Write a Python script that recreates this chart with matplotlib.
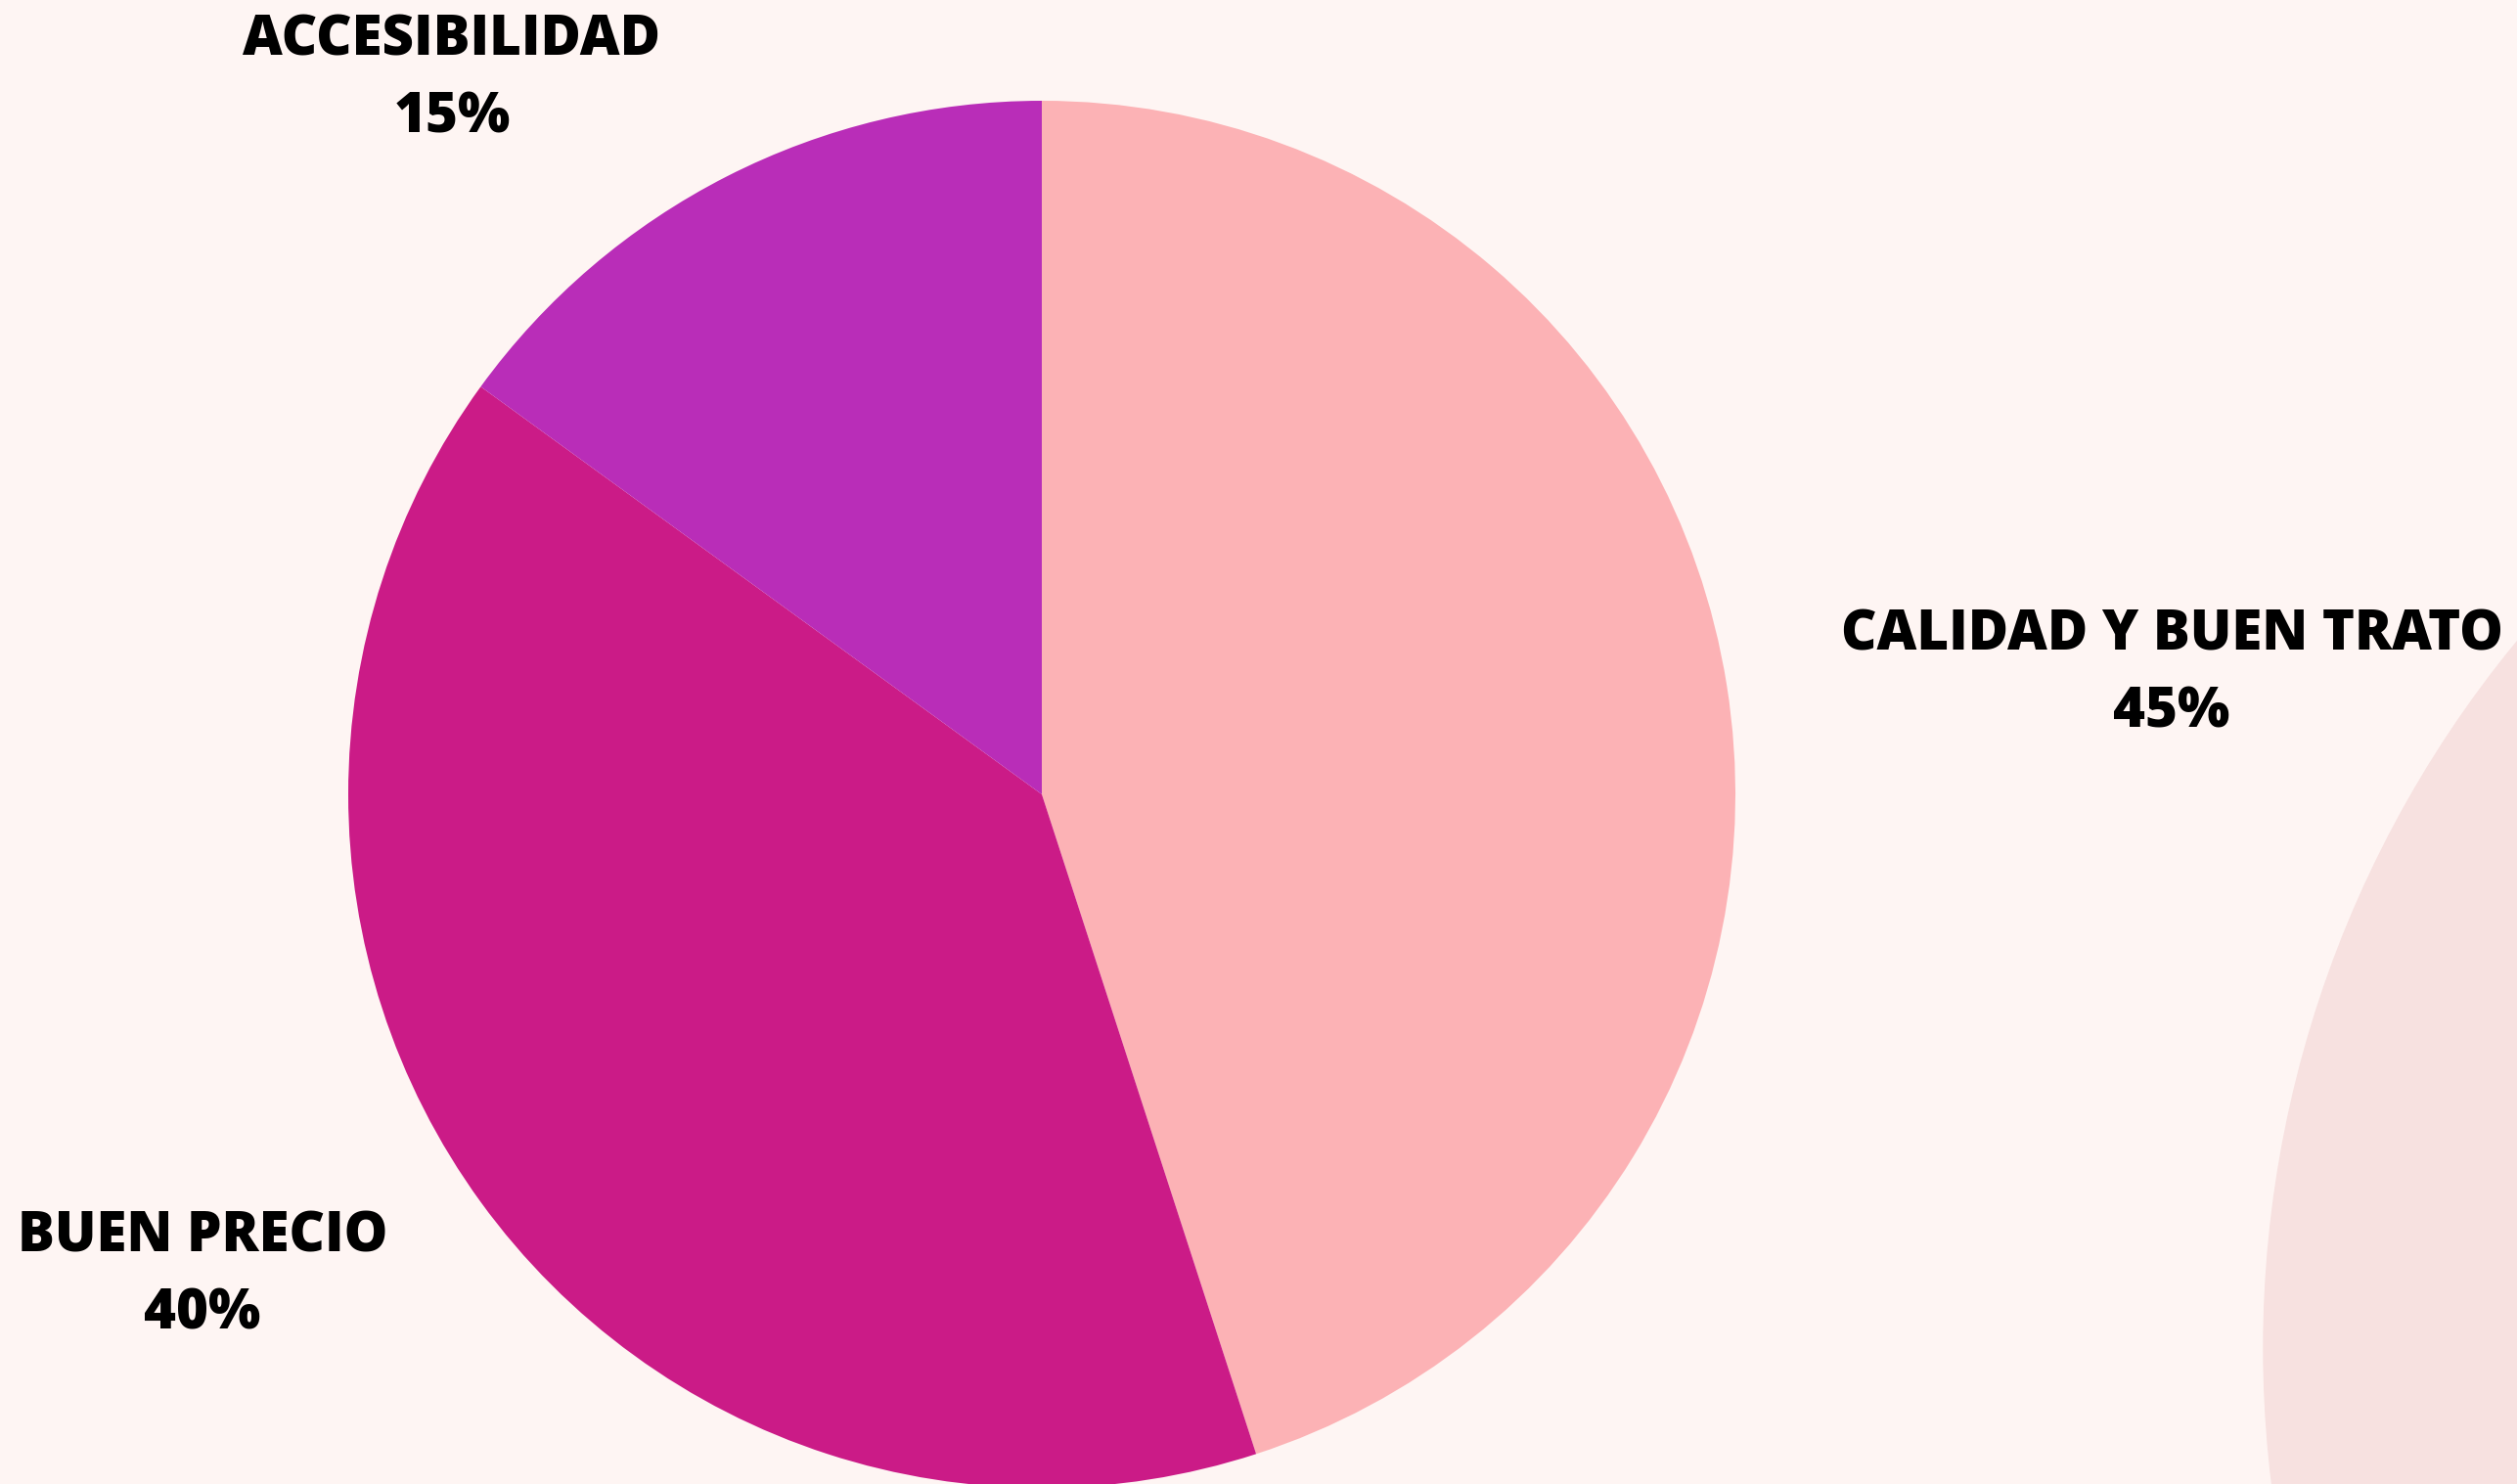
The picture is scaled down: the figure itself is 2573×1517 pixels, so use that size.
import matplotlib.pyplot as plt
from matplotlib.patches import Circle

categorias = ['CALIDAD Y BUEN TRATO', 'BUEN PRECIO', 'ACCESIBILIDAD']
porcentajes = [45, 40, 15]
colores = ['#FCB2B5', '#CB1B87', '#B92DB8']

W, H = 2573, 1517
fig = plt.figure(figsize=(W / 100, H / 100), dpi=100)
fig.patch.set_facecolor('#FEF5F3')
ax = fig.add_axes([0, 0, 1, 1])

# circulo decorativo abajo a la derecha
ax.add_patch(Circle((3450, 139), 1136, color='#F7E1E0', zorder=0))

ax.pie(porcentajes, colors=colores, startangle=90, counterclock=False,
       center=(1065, 705), radius=709, frame=True,
       wedgeprops=dict(linewidth=0))
ax.set_xlim(0, W)
ax.set_ylim(0, H)
ax.set_aspect('equal')
ax.axis('off')

# posiciones de las etiquetas (x, y de la primera linea)
pos = [(2220, 867), (207, 252), (462, 1475)]
for cat, p, (x, y) in zip(categorias, porcentajes, pos):
    ax.text(x, y, cat, ha='center', va='center', fontsize=40.5,
            family='Open Sans', weight='heavy', color='black')
    ax.text(x, y - 79, f'{p}%', ha='center', va='center', fontsize=40.5,
            family='Open Sans', weight='heavy', color='black')

fig.savefig('out.png', dpi=100, facecolor=fig.get_facecolor())
